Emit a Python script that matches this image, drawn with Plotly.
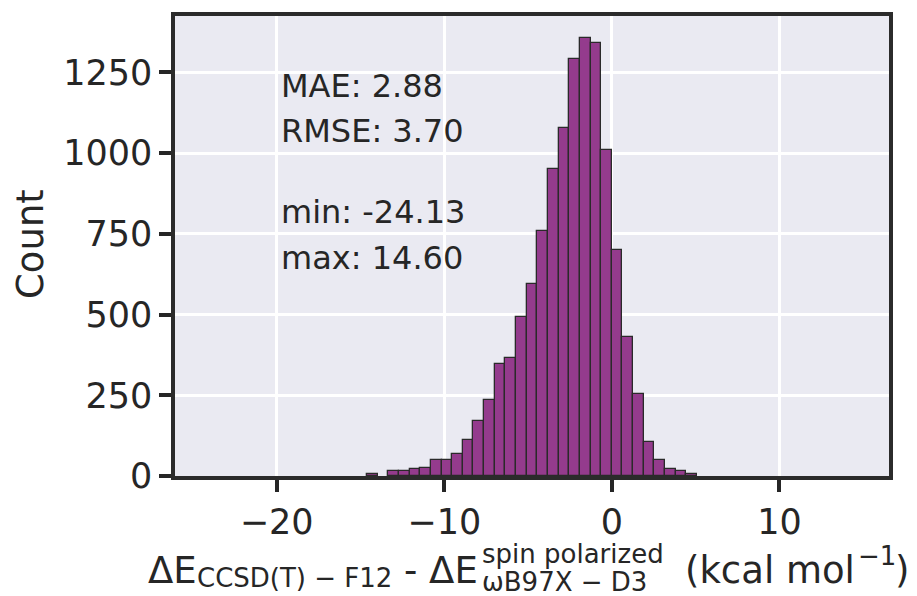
import numpy as np
import plotly.graph_objects as go

# ---- data ----
data_min = -24.13
data_max = 14.60
n_bins = 61
counts = [1, 0, 0, 0, 0, 0, 1, 0, 1, 0,
          1, 1, 1, 2, 2, 5, 3, 16, 14, 23,
          25, 50, 51, 68, 111, 170, 234, 348, 366, 491,
          596, 758, 950, 1079, 1292, 1357, 1341, 1011, 700, 431,
          255, 105, 50, 22, 16, 6, 3, 1, 1, 0,
          0, 0, 0, 0, 0, 0, 0, 0, 0, 0, 1]
stat_labels = ["MAE: 2.88", "RMSE: 3.70", "min: -24.13", "max: 14.60"]
x_ticks = [-20, -10, 0, 10]
y_ticks = [0, 250, 500, 750, 1000, 1250]

edges = np.linspace(data_min, data_max, n_bins + 1)
centers = (edges[:-1] + edges[1:]) / 2
bin_w = edges[1] - edges[0]
# tiny bars are hidden under the thick bottom spine in the reference
edge_widths = [1.3 if c >= 4 else 0 for c in counts]
bar_opacity = [1 if c >= 4 else 0 for c in counts]

# page is offset by the default 8px body margin
OFF = 8
W, H = 917 - OFF, 596 - OFF
PL, PR, PT, PB = 175, 889, 12, 476          # plot area in page pixels
ML, MT = PL - OFF, PT - OFF
MR = (W + OFF) - PR
MB = (H + OFF) - PB
PW, PH = PR - PL, PB - PT

def px(x):
    return (x - PL) / PW

def py(y):
    return (PB - y) / PH

TXT = "#262626"
FONT = "DejaVu Sans"

fig = go.Figure()
fig.add_trace(go.Bar(
    x=centers, y=counts, width=bin_w,
    marker=dict(color="rgb(148,59,141)", opacity=bar_opacity,
                line=dict(color="#2a2a2a", width=edge_widths)),
    hoverinfo="skip",
))

xr = [data_min - 0.05 * (data_max - data_min), data_max + 0.05 * (data_max - data_min)]
yr = [0, max(counts) * 1.05]

axis_common = dict(
    showline=True, linecolor="#2b2b2b", linewidth=3.5, mirror=True,
    ticks="outside", ticklen=12, tickwidth=3.5, tickcolor=TXT,
    showgrid=True, gridcolor="white", gridwidth=2.8, zeroline=False,
    tickfont=dict(family=FONT, size=35, color=TXT),
)
fig.update_xaxes(range=xr, tickvals=x_ticks, **axis_common)
fig.update_yaxes(range=yr, tickvals=y_ticks, **axis_common)

anns = []
for lbl, yc in zip(stat_labels, [83, 128, 210, 256]):
    anns.append(dict(text=lbl, x=px(280), y=py(yc), xanchor="left", yanchor="middle",
                     font=dict(size=32, color=TXT, family=FONT)))
anns.append(dict(text="Count", x=px(30), y=py(242), xanchor="center", yanchor="middle",
                 textangle=-90, font=dict(size=37, color=TXT, family=FONT)))
main = dict(size=37, color=TXT, family=FONT)
small = dict(size=26, color=TXT, family=FONT)
pieces = [
    ("ΔE", 147, 571, main),
    ("CCSD(T) − F12", 196, 579, small),
    ("- ΔE", 403, 571, main),
    ("spin polarized", 481, 555, small),
    ("ωB97X − D3", 481, 583, small),
    ("(kcal mol", 684, 571, main),
    ("−1", 857, 557, small),
    (")", 894, 571, main),
]
for t, x0, yc, f in pieces:
    anns.append(dict(text=t, x=px(x0), y=py(yc), xanchor="left", yanchor="middle", font=f))

for a in anns:
    a.update(xref="paper", yref="paper", showarrow=False, borderpad=0)

fig.update_layout(
    width=W, height=H, margin=dict(l=ML, r=MR, t=MT, b=MB),
    paper_bgcolor="white", plot_bgcolor="#EAEAF2",
    bargap=0, showlegend=False, annotations=anns,
    font=dict(family=FONT, color=TXT),
)
fig.write_html("out.html")
